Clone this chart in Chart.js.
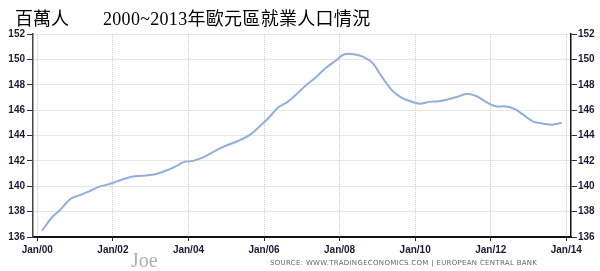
<!DOCTYPE html>
<html>
<head>
<meta charset="utf-8">
<script src="https://cdn.jsdelivr.net/npm/chart.js@4"></script>
<style>
  body { margin: 0; background: #fff; }
  #wrap { position: relative; width: 600px; height: 271px; }
  .txt { position: absolute; white-space: nowrap; }
  #unit { left: 15px; top: 7px; font: 18px "Liberation Serif", "Noto Sans CJK TC", serif; color: #000; line-height: 24px; }
  #title { left: 103px; top: 7px; font: 18px "Liberation Serif", "Noto Sans CJK TC", serif; color: #000; line-height: 24px; letter-spacing: 0.3px; }
  #joe { left: 131px; top: 249px; font: 20px "Liberation Serif", serif; color: #b0b0b0; line-height: 22px; }
  #source { left: 270px; top: 259px; font: 7px "DejaVu Sans", sans-serif; color: #666; letter-spacing: 0.3px; line-height: 9px; }
</style>
</head>
<body>
<div id="wrap">
  <canvas id="empChart" width="600" height="271"></canvas>
  <div class="txt" id="unit">百萬人</div>
  <div class="txt" id="title">2000~2013年歐元區就業人口情況</div>
  <div class="txt" id="joe">Joe</div>
  <div class="txt" id="source">SOURCE: WWW.TRADINGECONOMICS.COM | EUROPEAN CENTRAL BANK</div>
</div>
<script>
// Euro area employment, millions, quarterly 2000Q1 - 2013Q4
const years = [2000, 2001, 2002, 2003, 2004, 2005, 2006, 2007, 2008, 2009, 2010, 2011, 2012, 2013];
const employment = [
  136.5, 137.5, 138.2, 139.0,
  139.3, 139.6, 139.95, 140.15,
  140.4, 140.65, 140.8, 140.85,
  140.95, 141.2, 141.5, 141.9,
  142.0, 142.25, 142.65, 143.05,
  143.35, 143.65, 144.05, 144.7,
  145.4, 146.2, 146.65, 147.3,
  148.0, 148.6, 149.3, 149.85,
  150.4, 150.4, 150.2, 149.7,
  148.6, 147.6, 147.0, 146.7,
  146.5, 146.65, 146.7, 146.85,
  147.05, 147.3, 147.1, 146.65,
  146.3, 146.3, 146.1, 145.6,
  145.1, 144.95, 144.85, 145.0
];
const xTickYears = [2000, 2002, 2004, 2006, 2008, 2010, 2012, 2014];
const yTicks = [136, 138, 140, 142, 144, 146, 148, 150, 152];

// quarters sit in the middle of each quarter on the time axis
const quarters = [];
years.forEach(y => { for (let q = 0; q < 4; q++) quarters.push(y + (q + 0.5) / 4); });
const points = quarters.map((x, i) => ({ x: x, y: employment[i] }));

const tickFont = { family: "Liberation Sans", size: 10, weight: "bold" };
const gridDots = { color: "#cccccc", lineWidth: 1 };

new Chart(document.getElementById("empChart"), {
  type: "line",
  data: {
    datasets: [{
      data: points,
      borderColor: "#92aed9",
      borderWidth: 2,
      pointRadius: 0,
      tension: 0.35,
      fill: false
    }]
  },
  options: {
    responsive: false,
    animation: false,
    layout: { padding: { top: 34, left: 0, right: 0, bottom: 0 } },
    plugins: { legend: { display: false }, tooltip: { enabled: false } },
    scales: {
      x: {
        type: "linear",
        min: 1999.886,
        max: 2014.124,
        afterBuildTicks: s => { s.ticks = xTickYears.map(v => ({ value: v })); },
        afterFit: s => { s.height = 34; },
        grid: { ...gridDots, tickLength: 4, tickColor: "#222" },
        border: { color: "#111", width: 2, dash: [1, 1] },
        ticks: {
          font: tickFont, color: "#1a1a33", padding: 3, maxRotation: 0,
          callback: v => "Jan/" + String(v % 100).padStart(2, "0")
        }
      },
      y: {
        position: "left",
        min: 136,
        max: 152,
        afterBuildTicks: s => { s.ticks = yTicks.map(v => ({ value: v })); },
        afterFit: s => { s.width = 33; },
        grid: { ...gridDots, tickLength: 6, tickColor: "#333" },
        border: { color: "#444", width: 1.5, dash: [1, 1] },
        ticks: { font: tickFont, color: "#1a1a33", padding: 2 }
      },
      y2: {
        position: "right",
        min: 136,
        max: 152,
        afterBuildTicks: s => { s.ticks = yTicks.map(v => ({ value: v })); },
        afterFit: s => { s.width = 29; },
        grid: { drawOnChartArea: false, tickLength: 6, tickColor: "#333" },
        border: { color: "#111", width: 1.5 },
        ticks: { font: tickFont, color: "#1a1a33", padding: 1 }
      }
    }
  }
});
</script>
</body>
</html>
